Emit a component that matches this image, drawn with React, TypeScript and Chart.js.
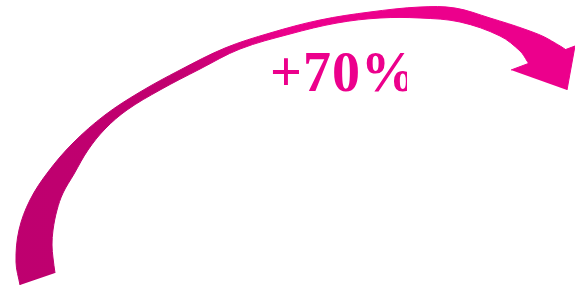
import React, { useEffect, useRef } from "react";
import { Chart, registerables } from "chart.js";

Chart.register(...registerables);

// Outer (upper/left) edge of the arrow shaft, from the tail up to the head
const outerEdgeX = [20, 16, 19, 30, 48, 73, 105, 140, 180, 225, 270, 320, 370, 420, 455, 490, 527, 550, 570];
const outerEdgeY = [285, 262, 230, 200, 172, 143, 115, 92, 70, 48, 33, 20, 12, 7, 8, 18, 30, 40, 56];
// Inner (lower/right) edge of the shaft, from the head back to the tail
const innerEdgeX = [535, 520, 500, 460, 420, 380, 337, 290, 240, 200, 160, 127, 105, 88, 74, 63, 57, 53, 52, 53, 55];
const innerEdgeY = [68, 51, 36, 22, 18, 18, 23, 34, 49, 69, 90, 110, 129, 150, 174, 193, 210, 230, 245, 258, 273];
// Arrow head triangle: barb, outer corner, tip
const headX = [511, 575, 567];
const headY = [70, 46, 90];

const label = "+70%";

const zip = (xs: number[], ys: number[]) => xs.map((x, i) => ({ x, y: ys[i] }));

export default function App() {
  const ref = useRef<HTMLCanvasElement | null>(null);
  useEffect(() => {
    if (!ref.current) return;
    const shaft = [...zip(outerEdgeX, outerEdgeY), ...zip(innerEdgeX, innerEdgeY)];
    const head = zip(headX, headY);
    const grad = (ctx: any) => {
      const chart = ctx.chart;
      const area = chart.chartArea;
      if (!area) return "#d0007a";
      const g = chart.ctx.createLinearGradient(area.left, 0, area.right, 0);
      g.addColorStop(0, "#BE006F");
      g.addColorStop(0.3, "#C1006F");
      g.addColorStop(0.5, "#EC008C");
      g.addColorStop(1, "#EC008C");
      return g;
    };
    const chart = new Chart(ref.current, {
      type: "scatter",
      data: {
        datasets: [
          {
            data: shaft,
            showLine: true,
            fill: "shape",
            tension: 0.35,
            backgroundColor: grad,
            borderColor: grad,
            borderWidth: 1,
            pointRadius: 0,
            pointHoverRadius: 0,
          },
          {
            data: head,
            showLine: true,
            fill: "shape",
            tension: 0,
            backgroundColor: "#EC008C",
            borderColor: "#EC008C",
            borderWidth: 1,
            pointRadius: 0,
            pointHoverRadius: 0,
          },
        ],
      },
      options: {
        animation: false,
        responsive: true,
        maintainAspectRatio: false,
        layout: { padding: 0 },
        events: [],
        plugins: { legend: { display: false }, tooltip: { enabled: false }, title: { display: false } },
        scales: {
          x: { type: "linear", min: 0, max: 575, display: false },
          y: { type: "linear", min: 0, max: 286, reverse: true, display: false },
        },
      },
    });
    return () => chart.destroy();
  }, []);
  return (
    <div style={{ position: "fixed", left: 0, top: 0, width: 575, height: 286, background: "#fff" }}>
      <canvas ref={ref} />
      <div
        style={{
          position: "absolute",
          left: 270,
          top: 44,
          width: 137,
          overflow: "hidden",
          whiteSpace: "nowrap",
          fontFamily: "'Liberation Serif', 'Times New Roman', serif",
          fontWeight: "bold",
          fontSize: 56,
          lineHeight: "56px",
          letterSpacing: 1,
          color: "#EC008C",
        }}
      >
        {label}
      </div>
    </div>
  );
}
